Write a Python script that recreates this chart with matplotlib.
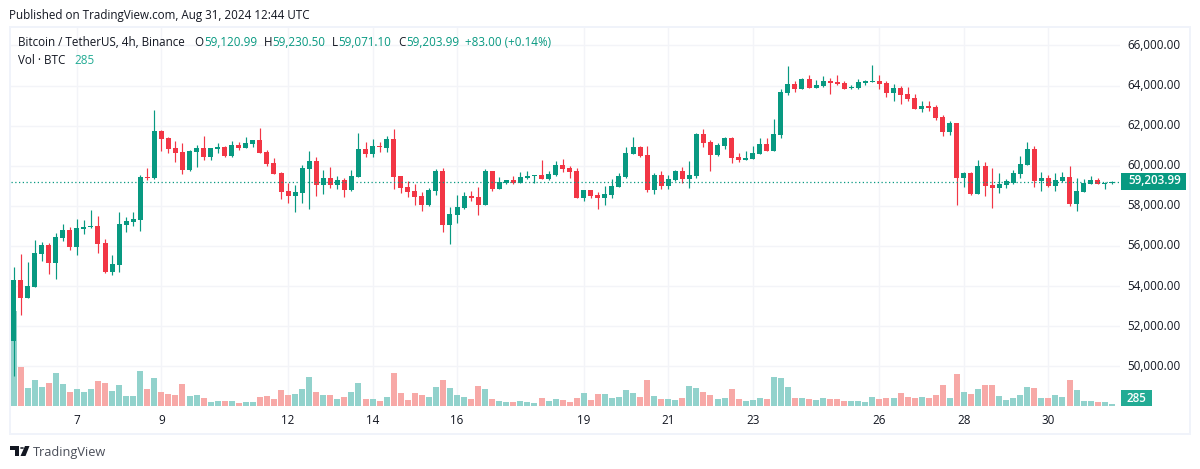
import matplotlib
matplotlib.use("Agg")
import matplotlib.pyplot as plt
from matplotlib.patches import Rectangle, Polygon, Circle
from matplotlib.transforms import blended_transform_factory, ScaledTranslation
from matplotlib.ticker import FuncFormatter

plt.rcParams['font.family'] = ['Open Sans', 'DejaVu Sans']

opens = [51250,54320,53420,53970,55620,56020,55170,56370,56770,55970,56820,56920,56970,56120,54720,55070,57020,57170,57270,59420,
59370,61720,61370,60870,60670,59770,60670,60870,60420,60820,60920,60470,61020,60870,61070,61270,60670,60120,59620,58720,
58470,58620,59820,60220,59020,59370,59020,59270,58770,59420,60820,60570,60970,60870,61320,59470,58920,58720,58470,58020,
58720,59720,57020,57520,57870,58470,58420,58020,59720,58820,59120,59270,59120,59370,59470,59520,59320,59520,60020,59870,
59720,58370,58770,58520,58370,58520,58920,59420,60570,60920,60520,58770,59520,58970,59270,59720,59320,59470,61570,61170,
60520,60970,61370,60420,60270,60320,60570,61070,60720,61520,63620,64070,63820,64320,63870,63970,64220,64170,64120,63870,
63870,64120,64170,64220,64120,63620,63870,63570,63370,62820,62970,62920,62420,61670,62120,59370,59620,58570,59970,59020,
58870,59020,59120,59570,60020,60820,59220,59370,58970,59220,59420,58070,58670,59070,59270,59070,59120.99]
closes = [54320,53420,54020,55670,56020,55170,56420,56770,55970,56870,56920,56970,56070,54720,55120,57070,57220,57320,59420,59370,
61720,61320,60820,60620,59770,60720,60870,60420,60870,60920,60470,61020,60870,61120,61270,60620,60070,59570,58670,58470,
58670,59870,60220,59020,59370,59020,59270,58770,59470,60820,60570,60970,60920,61320,59420,58870,58670,58420,58020,58770,
59720,57020,57570,57920,58470,58370,58020,59720,58820,59170,59270,59120,59420,59470,59520,59320,59570,60020,59820,59670,
58370,58770,58470,58370,58570,58970,59470,60620,60920,60470,58770,59520,58970,59320,59720,59320,59520,61570,61120,60520,
61020,61370,60370,60270,60370,60620,61070,60720,61570,63670,64070,63820,64320,63870,64020,64220,64120,64070,63820,63920,
64170,64220,64220,64070,63620,63870,63520,63320,62820,62970,62870,62370,61670,62120,59370,59620,58570,59970,58970,58870,
59070,59220,59620,60070,60820,59220,59370,58970,59270,59420,58070,58720,59120,59270,59070,59120,59203.99]
highs = [54950,55620,55220,56270,56170,56120,56620,57070,56920,57320,57270,57770,57470,56320,55570,57670,57420,57670,59520,59870,
62770,61770,61420,61220,61120,60770,61020,61470,60870,61120,60970,61220,61170,61420,61270,61870,60770,60370,59670,59120,
59020,60020,60720,60420,59770,59920,59470,59370,59770,61620,61170,61320,61170,61470,61820,59470,59220,59070,58670,58870,
59820,59870,57920,58520,58670,58720,58920,59820,59720,59420,59270,59470,59670,59720,59520,60270,59720,60220,60320,59970,
59870,58770,58770,58670,58970,59320,59620,60920,61420,60970,60970,59620,59720,59520,59770,59920,60220,61620,61820,61270,
61120,61420,61420,60620,60720,60970,61370,61370,62320,63820,64970,64220,64370,64520,64270,64470,64370,64520,64220,64020,
64320,64270,65020,64520,64220,64070,63970,63920,63570,63220,63220,63020,62520,62220,62120,59670,59670,60270,60170,59870,
59620,59320,59770,60470,61170,60970,59670,59520,59620,59670,59970,59370,59320,59470,59370,59170,59230.50]
lows = [49500,52570,53420,53970,55270,54620,54370,56220,55820,55570,56570,56870,55670,54670,54570,54720,56670,56970,56720,59270,
59320,60720,60620,60170,59570,59720,59920,60270,60270,60620,60420,60420,60770,60870,60920,60620,59970,59570,58320,58120,
57670,58120,57820,58470,58570,58870,58820,58420,58720,59420,60420,60420,60670,60670,58820,58620,58420,58020,57720,57970,
58520,56670,56070,57120,57820,58220,57520,58020,58720,58820,59070,59070,59120,59320,59120,59320,59270,59470,59670,59370,
58370,58220,58370,57820,58020,58370,58920,59370,60570,60420,58670,58570,58820,58820,59220,59120,58870,59370,60920,59720,
60470,60820,60120,60170,60270,60320,60570,60720,60720,61370,63520,63670,63820,63870,63870,63920,63570,64020,63820,63820,
63820,64020,64170,63820,63420,63220,63070,63220,62820,62670,62720,62270,61470,61520,58020,58920,58520,58570,58470,57870,
58620,58870,59070,59370,60020,58920,58720,58920,58720,59170,57970,57720,58670,59070,59070,58820,59071.10]
volumes = [13540,5560,2565,3700,2710,3280,4700,3135,2000,2420,2000,2420,3560,3280,2140,2990,1425,1425,4990,2420,
3990,2000,1710,1570,3135,1425,1570,1140,570,710,710,710,430,570,570,1280,1425,1000,2280,1570,
1710,2420,4130,2000,1570,1570,1000,1280,2000,3280,1000,1000,710,1280,4700,1850,855,1850,1570,1280,
2710,3700,2565,1570,1280,1000,2850,2420,1000,710,570,570,710,570,430,1140,710,1000,855,570,
1140,1850,855,1710,1710,1140,1280,2280,1850,1280,3700,1425,1000,1000,855,1140,2850,2565,2000,1570,
1000,1140,2420,1000,710,855,1140,1000,4130,3990,2710,1140,1140,1000,855,1140,1000,1000,710,710,
710,570,1280,1000,1140,1140,1850,1280,1140,1280,1140,1570,2990,1140,4560,2000,1710,2420,2990,2990,
1425,855,1140,1570,2710,2565,1140,1140,1570,1280,3700,2280,710,710,570,570,285]

price_ticks = [50000,52000,54000,56000,58000,60000,62000,64000,66000]
date_idx = [9,21,39,51,63,81,93,105,123,135,147]
date_labels = ['7','9','12','14','16','19','21','23','26','28','30']

GREEN, RED = '#089981', '#F23645'
VGREEN, VRED = '#92D2CC', '#F7A9A7'
GRID, FRAME = '#F3F4F8', '#F0F3FA'
INK = '#131722'
W, H = 1200, 469

def fx(x): return x / W
def fy(y): return 1 - y / H

fig = plt.figure(figsize=(W/100, H/100), dpi=100, facecolor='white')
L, R, T, B = 11, 1120, 28, 406
ax = fig.add_axes([fx(L), fy(B), fx(R-L), (B-T)/H])
xspan = 7.04
ax.set_xlim((L-13.5)/xspan, (R-13.5)/xspan)
ax.set_ylim(66000-(B-45.4)/20.05*1000, 66000+(45.4-T)/20.05*1000)
for s in ax.spines.values():
    s.set_visible(False)
ax.set_facecolor('none')
ax.set_zorder(3)

vax = fig.add_axes(ax.get_position(), sharex=ax)
vax.set_ylim(0, (B-T)*142.5)
vax.axis('off')
vax.set_zorder(2)

gax = fig.add_axes(ax.get_position())
gax.set_xlim(ax.get_xlim()); gax.set_ylim(ax.get_ylim())
gax.axis('off'); gax.set_zorder(1)
for p in price_ticks:
    gax.axhline(p, color=GRID, lw=1.0)
for d in date_idx:
    gax.axvline(d, color=GRID, lw=1.0)

n = len(closes)
xs = list(range(n))
up = [c >= o for o, c in zip(opens, closes)]
cols = [GREEN if u else RED for u in up]
vcols = [VGREEN if u else VRED for u in up]

vax.bar(xs, volumes, width=6/xspan, color=vcols, linewidth=0)
ax.vlines(xs, lows, highs, colors=cols, linewidth=0.85)
ax.bar(xs, [abs(c-o) for o, c in zip(opens, closes)], bottom=[min(o, c) for o, c in zip(opens, closes)],
       width=5/xspan, color=cols, linewidth=0)

last = closes[-1]
ax.axhline(last, color=GREEN, lw=0.9, linestyle=(0, (1, 2)))

ax.yaxis.tick_right()
ax.set_yticks(price_ticks)
ax.yaxis.set_major_formatter(FuncFormatter(lambda v, _: f'{v:,.2f}'))
ax.tick_params(axis='y', length=0, pad=5.2, labelsize=8.4, labelcolor=INK)
ax.set_xticks(date_idx)
ax.set_xticklabels(date_labels)
ax.tick_params(axis='x', length=0, pad=5.5, labelsize=8.4, labelcolor=INK)
up_shift = ScaledTranslation(0, 1.5/100, fig.dpi_scale_trans)
for lab in ax.get_yticklabels():
    lab.set_transform(lab.get_transform() + up_shift)

# last price and volume tags
tr = blended_transform_factory(ax.transAxes, ax.transData)
bw = 65 / (R-L)
ax.add_patch(Rectangle((1 + 1/(R-L), last-8.5/20.05*1000), bw, 17/20.05*1000, transform=tr,
                       facecolor=GREEN, edgecolor='none', clip_on=False, zorder=6))
ax.text(1 + 8/(R-L), last, f'{last:,.2f}', transform=tr + up_shift, color='white', fontsize=8.4, fontweight='semibold',
        va='center', ha='left', zorder=7, clip_on=False)
fig.add_artist(Rectangle((fx(1121), fy(406)), 31/W, 16/H, transform=fig.transFigure,
                         facecolor='#22AB94', edgecolor='none'))
fig.text(fx(1136.5), fy(398.2), f'{volumes[-1]}', color='white', fontsize=8.4, fontweight='semibold', ha='center', va='center')

# outer frame
fig.add_artist(Rectangle((fx(10), fy(434)), 1180/W, 407/H, transform=fig.transFigure,
                         facecolor='none', edgecolor=FRAME, linewidth=1.44))

# header texts
def t(x, y, s, c=INK, **kw):
    fig.text(fx(x), fy(y), s, color=c, fontsize=kw.pop('fontsize', 8.35), va='center', ha='left', **kw)

t(9, 15.5, 'Published on TradingView.com, Aug 31, 2024 12:44 UTC', '#131722')
t(18, 43, 'Bitcoin / TetherUS, 4h, Binance', '#131722')
o, h, l, c = opens[-1], highs[-1], lows[-1], closes[-1]
for x, off, pre, val in [(194, 10, 'O', o), (264, 8.5, 'H', h), (332, 6.5, 'L', l), (398, 8, 'C', c)]:
    t(x, 43, pre, '#131722')
    t(x + off, 43, f'{val:,.2f}', GREEN)
t(465, 43, f'+{c-o:.2f} (+{(c-o)/o*100:.2f}%)', GREEN)
t(18, 60, 'Vol · BTC', '#131722')
t(74, 60, f'{volumes[-1]}', '#22AB94')

# TradingView mark
dark = '#131722'
fig.add_artist(Polygon([(fx(10), fy(446)), (fx(19), fy(446)), (fx(19), fy(456)), (fx(15), fy(456)),
                        (fx(15), fy(450)), (fx(10), fy(450))], closed=True, transform=fig.transFigure,
                       facecolor=dark, edgecolor='none'))
fig.add_artist(Polygon([(fx(25), fy(446)), (fx(29.5), fy(446)), (fx(25.5), fy(456)), (fx(20.5), fy(456))], closed=True,
                       transform=fig.transFigure, facecolor=dark, edgecolor='none'))
fig.add_artist(Circle((fx(22), fy(448)), 2/W, transform=fig.transFigure, facecolor=dark, edgecolor='none'))
t(33, 452, 'TradingView', '#4A4E59', fontsize=9.2)

fig.savefig('out.png', dpi=100, facecolor='white')
